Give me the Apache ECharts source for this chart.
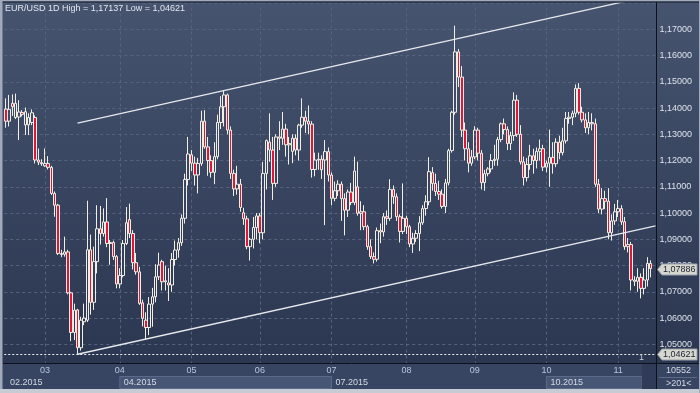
<!DOCTYPE html>
<html><head><meta charset="utf-8">
<script src="https://cdn.jsdelivr.net/npm/echarts@6/dist/echarts.min.js"></script>
<style>html,body{margin:0;padding:0;background:#2f3b57;}#c{width:700px;height:393px;}</style>
</head><body><div id="c"></div>
<script>
// ---- data ----
const titleText = 'EUR/USD 1D High = 1,17137 Low = 1,04621';
const months = ['02','03','04','05','06','07','08','09','10','11'];
const monthSlots = [12,23,22,21,22,23,21,22,22,12];
const periodLabels = ['02.2015','04.2015','07.2015','10.2015'];
const periodMonths = ['02','04','07','10'];
const highValue = 1.17137;
const lowValue = 1.04621;
const lastValue = 1.07886;
const barCountLabel = '10552';
const rangeLabel = '>201<';
// trend lines: [slot index, price]
const upperTrend = [[22, 1.1343], [199.5, 1.1832]];
const lowerTrend = [[22, 1.04621], [199.5, 1.0951]];
// candles: [open, close, low, high]
const feb = [
[1.1396,1.1350,1.1325,1.1437],[1.1350,1.1395,1.1330,1.1450],[1.1418,1.1405,1.1370,1.1452],
[1.1364,1.1418,1.1358,1.1455],[1.1366,1.1385,1.1278,1.1430],[1.1383,1.1376,1.1368,1.1392],
[1.1336,1.1386,1.1297,1.1402],[1.1336,1.1364,1.1297,1.1380],[1.1345,1.1382,1.1335,1.1395],
[1.1364,1.1202,1.1189,1.1372],[1.1202,1.1194,1.1183,1.1246],[1.1192,1.1188,1.1180,1.1205]];
const mar = [
[1.1180,1.1189,1.1176,1.1246],[1.1189,1.1174,1.1166,1.1217],[1.1174,1.1075,1.1069,1.1180],
[1.1075,1.1030,1.0986,1.1082],[1.1030,1.0846,1.0840,1.1035],[1.0846,1.0842,1.0832,1.0860],
[1.0843,1.0852,1.0834,1.0910],[1.0852,1.0696,1.0690,1.0860],[1.0696,1.0545,1.0512,1.0700],
[1.0545,1.0630,1.0516,1.0655],[1.0631,1.0487,1.04621,1.0635],[1.0487,1.0592,1.0476,1.0605],
[1.0586,1.0600,1.0573,1.0655],[1.0592,1.0860,1.0585,1.1047],[1.0860,1.0660,1.0613,1.0918],
[1.0660,1.0815,1.0631,1.0872],[1.0815,1.0940,1.0770,1.1030],[1.0940,1.0922,1.0880,1.1027],
[1.0922,1.0966,1.0910,1.1018],[1.0966,1.0884,1.0870,1.1057],[1.0884,1.0888,1.0803,1.0897],
[1.0888,1.0834,1.0821,1.0895],[1.0834,1.0730,1.0713,1.0840]];
const apr = [
[1.0730,1.0762,1.0713,1.0790],[1.0762,1.0884,1.0755,1.0897],[1.0884,1.0963,1.0878,1.1023],
[1.0975,1.0922,1.0905,1.1036],[1.0922,1.0811,1.0785,1.0935],[1.0811,1.0776,1.0765,1.0848],
[1.0776,1.0656,1.0650,1.0795],[1.0658,1.0599,1.0568,1.0670],[1.0592,1.0564,1.0520,1.0622],
[1.0564,1.0653,1.0535,1.0680],[1.0653,1.0681,1.0567,1.0715],[1.0681,1.0757,1.0660,1.0805],
[1.0757,1.0802,1.0745,1.0849],[1.0815,1.0738,1.0705,1.0822],[1.0738,1.0742,1.0705,1.0800],
[1.0734,1.0726,1.0665,1.0790],[1.0726,1.0823,1.0700,1.0848],[1.0823,1.0859,1.0800,1.0895],
[1.0859,1.0887,1.0830,1.0905],[1.0887,1.0980,1.0875,1.0995],[1.0980,1.1128,1.0960,1.1150],
[1.1128,1.1225,1.1105,1.1290]];
const may = [
[1.1222,1.1190,1.1160,1.1240],[1.1190,1.1145,1.1105,1.1215],[1.1145,1.1189,1.1075,1.1210],
[1.1189,1.1350,1.1180,1.1390],[1.1350,1.1252,1.1245,1.1392],[1.1252,1.1200,1.1142,1.1290],
[1.1200,1.1155,1.1135,1.1220],[1.1155,1.1215,1.1110,1.1270],[1.1215,1.1345,1.1205,1.1375],
[1.1345,1.1405,1.1320,1.1445],[1.1405,1.1450,1.1330,1.1467],[1.1450,1.1316,1.1300,1.1455],
[1.1316,1.1151,1.1130,1.1330],[1.1151,1.1092,1.1065,1.1165],[1.1092,1.1110,1.1070,1.1180],
[1.1110,1.1021,1.1005,1.1130],[1.1001,1.0978,1.0955,1.1020],[1.0978,1.0872,1.0862,1.0990],
[1.0872,1.0900,1.0819,1.0905],[1.0900,1.0945,1.0865,1.0985],[1.0945,1.0989,1.0900,1.1000]];
const jun = [
[1.0989,1.0925,1.0885,1.1000],[1.0925,1.1151,1.0900,1.1195],[1.1151,1.1276,1.1090,1.1280],
[1.1270,1.1240,1.1195,1.1380],[1.1240,1.1113,1.1050,1.1290],[1.1113,1.1290,1.1100,1.1300],
[1.1290,1.1285,1.1240,1.1350],[1.1285,1.1320,1.1260,1.1385],[1.1320,1.1260,1.1215,1.1340],
[1.1260,1.1265,1.1185,1.1290],[1.1235,1.1285,1.1190,1.1300],[1.1285,1.1240,1.1220,1.1300],
[1.1240,1.1335,1.1200,1.1340],[1.1335,1.1365,1.1325,1.1437],[1.1365,1.1350,1.1305,1.1390],
[1.1350,1.1339,1.1300,1.1410],[1.1339,1.1166,1.1135,1.1350],[1.1166,1.1202,1.1140,1.1230],
[1.1202,1.1205,1.1165,1.1230],[1.1205,1.1165,1.1130,1.1220],[1.1202,1.1234,1.0954,1.1278],
[1.1234,1.1145,1.1120,1.1250]];
const jul = [
[1.1145,1.1056,1.1030,1.1155],[1.1056,1.1085,1.1045,1.1120],[1.1085,1.1110,1.1065,1.1125],
[1.1110,1.1055,1.0970,1.1120],[1.1055,1.1011,1.0915,1.1075],[1.1011,1.1080,1.0985,1.1090],
[1.1080,1.1040,1.1030,1.1115],[1.1040,1.1160,1.1030,1.1215],[1.1100,1.0999,1.0990,1.1196],
[1.0999,1.1005,1.0935,1.1045],[1.1005,1.0948,1.0935,1.1030],[1.0948,1.0872,1.0860,1.0955],
[1.0872,1.0834,1.0825,1.0900],[1.0834,1.0824,1.0808,1.0850],[1.0824,1.0933,1.0815,1.0945],
[1.0933,1.0928,1.0885,1.0960],[1.0928,1.0986,1.0910,1.1000],[1.0986,1.0980,1.0955,1.1010],
[1.0980,1.1090,1.0970,1.1129],[1.1090,1.1062,1.1035,1.1105],[1.1062,1.0986,1.0970,1.1075],
[1.0986,1.0930,1.0888,1.0995],[1.0930,1.0980,1.0920,1.1113]];
const aug = [
[1.0980,1.0948,1.0920,1.0990],[1.0948,1.0882,1.0870,1.0955],[1.0882,1.0904,1.0848,1.0925],
[1.0904,1.0922,1.0890,1.0935],[1.0922,1.0963,1.0855,1.0988],[1.0963,1.1017,1.0955,1.1030],
[1.1017,1.1043,1.0990,1.1068],[1.1043,1.1158,1.1030,1.1213],[1.1154,1.1113,1.1085,1.1175],
[1.1113,1.1082,1.1065,1.1150],[1.1082,1.1072,1.1050,1.1123],[1.1072,1.1025,1.1017,1.1090],
[1.1025,1.1115,1.1000,1.1130],[1.1115,1.1238,1.1105,1.1245],[1.1238,1.1384,1.1230,1.1390],
[1.1384,1.1614,1.1375,1.17137],[1.1614,1.1518,1.1480,1.1625],[1.1518,1.1316,1.1290,1.1560],
[1.1316,1.1245,1.1200,1.1345],[1.1245,1.1190,1.1155,1.1270],[1.1190,1.1214,1.1180,1.1240]];
const sep = [
[1.1214,1.1316,1.1205,1.1331],[1.1316,1.1228,1.1200,1.1325],[1.1228,1.1116,1.1090,1.1240],
[1.1116,1.1150,1.1085,1.1165],[1.1150,1.1168,1.1140,1.1175],[1.1168,1.1200,1.1155,1.1225],
[1.1200,1.1205,1.1180,1.1260],[1.1205,1.1280,1.1180,1.1290],[1.1280,1.1340,1.1270,1.1345],
[1.1340,1.1318,1.1300,1.1360],[1.1318,1.1265,1.1240,1.1330],[1.1265,1.1295,1.1240,1.1310],
[1.1295,1.1430,1.1275,1.1460],[1.1430,1.1300,1.1290,1.1450],[1.1300,1.1195,1.1185,1.1335],
[1.1195,1.1135,1.1105,1.1215],[1.1135,1.1185,1.1120,1.1210],[1.1185,1.1218,1.1165,1.1260],
[1.1218,1.1200,1.1150,1.1245],[1.1200,1.1235,1.1170,1.1250],[1.1235,1.1245,1.1200,1.1280],
[1.1245,1.1175,1.1160,1.1260]];
const oct = [
[1.1175,1.1190,1.1155,1.1200],[1.1190,1.1212,1.1100,1.1318],[1.1212,1.1188,1.1150,1.1270],
[1.1188,1.1270,1.1175,1.1285],[1.1270,1.1230,1.1205,1.1295],[1.1230,1.1275,1.1220,1.1325],
[1.1275,1.1360,1.1265,1.1385],[1.1360,1.1365,1.1340,1.1385],[1.1365,1.1380,1.1335,1.1390],
[1.1380,1.1475,1.1365,1.1490],[1.1475,1.1384,1.1375,1.1495],[1.1384,1.1355,1.1345,1.1405],
[1.1355,1.1325,1.1305,1.1380],[1.1325,1.1345,1.1300,1.1385],[1.1345,1.1340,1.1315,1.1380],
[1.1340,1.1110,1.1100,1.1360],[1.1110,1.1015,1.1000,1.1130],[1.1015,1.1055,1.0995,1.1095],
[1.1055,1.1045,1.1015,1.1085],[1.1045,1.0925,1.0900,1.1095],[1.0925,1.0970,1.0895,1.0995],
[1.0970,1.1005,1.0955,1.1035]];
const nov = [
[1.1005,1.1017,1.0985,1.1050],[1.1017,1.0967,1.0955,1.1030],[1.0967,1.0872,1.0860,1.0985],
[1.0872,1.0880,1.0850,1.0905],[1.0880,1.0745,1.0705,1.0890],[1.0745,1.0740,1.0722,1.0760],
[1.0740,1.0755,1.0700,1.0790],[1.0755,1.0713,1.0675,1.0770],[1.0713,1.0745,1.0690,1.0790],
[1.0745,1.0808,1.0720,1.0832],[1.0808,1.07886,1.0755,1.0820]];

// ---- build ----
const FONT = '"Liberation Sans", Arial, sans-serif';
const categories = [];
months.forEach((m, mi) => { for (let k = 1; k <= monthSlots[mi]; k++) categories.push(m + '-' + k); });
const ohlc = [].concat(feb, mar, apr, may, jun, jul, aug, sep, oct, nov);
const monthStarts = months.slice(1).map(m => m + '-1');
const fmt = v => v.toFixed(5).replace('.', ',');

const chart = echarts.init(document.getElementById('c'));
const GRID = '#55637e';
chart.setOption({
  animation: false,
  backgroundColor: new echarts.graphic.LinearGradient(0, 0, 0, 1, [
    {offset: 0, color: '#46546f'}, {offset: 1, color: '#29344e'}]),
  title: {text: titleText, left: 5, top: 4, padding: 0,
    textStyle: {color: '#e2e7f0', fontSize: 9, fontWeight: 'normal', fontFamily: FONT}},
  grid: {left: 4.27, right: 44.5, top: 3.05, bottom: 22.45},
  xAxis: [
    {type: 'category', data: categories, boundaryGap: true, z: 20, offset: -5,
      axisLine: {show: false}, axisTick: {show: false}, splitLine: {show: false},
      axisLabel: {interval: (i, v) => monthStarts.includes(v), formatter: v => v.split('-')[0],
        color: '#b9c5dd', fontSize: 9, margin: 0, fontFamily: FONT}},
    {type: 'value', min: -0.5, max: 199.5, show: false}
  ],
  yAxis: {type: 'value', position: 'right', min: 1.04, max: 1.18, interval: 0.01,
    axisLine: {show: false}, axisTick: {show: false},
    splitLine: {lineStyle: {color: GRID, type: [3, 3], width: 1}},
    axisLabel: {margin: 4, color: '#dde2ec', fontSize: 9, fontFamily: FONT,
      formatter: v => (v < 1.045 || v > 1.175) ? '' : fmt(v)}},
  series: [
    {type: 'line', data: [], xAxisIndex: 0, z: 1,
      markLine: {silent: true, symbol: 'none', z: 1, label: {show: false},
        lineStyle: {color: GRID, type: [3, 3], width: 1},
        data: monthStarts.map(v => ({xAxis: v}))}},
    {type: 'candlestick', data: ohlc, xAxisIndex: 0, barWidth: 3, z: 3,
      itemStyle: {color: 'rgba(0,0,0,0)', color0: '#e3143c', borderColor: '#f3eee4',
        borderColor0: '#f3eee4', borderColorDoji: '#f3eee4', borderWidth: 1},
      markLine: {silent: true, symbol: 'none', precision: 5, label: {show: false},
        lineStyle: {color: '#f2f2f2', type: [2, 2], width: 1}, data: [{yAxis: lowValue}]}},
    {type: 'line', xAxisIndex: 1, data: upperTrend, symbol: 'none', clip: true, z: 4,
      lineStyle: {color: '#e6e8ec', width: 1.3}},
    {type: 'line', xAxisIndex: 1, data: lowerTrend, symbol: 'none', clip: true, z: 4,
      lineStyle: {color: '#e6e8ec', width: 1.3}}
  ]
});

// ---- frame / panels (positions from axes) ----
const px = c => chart.convertToPixel({xAxisIndex: 0}, c);
const py = v => chart.convertToPixel({yAxisIndex: 0}, v);
const g = [];
g.push({type: 'rect', z: 10, shape: {x: 0, y: 363, width: 700, height: 30}, style: {fill: '#384562'}});
// period boxes
const pStarts = periodMonths.map(m => px(m + '-1'));
pStarts[0] = 3;
const boxEnd = px(categories[categories.length - 1]) - 12;
periodLabels.forEach((lab, i) => {
  const x0 = pStarts[i];
  const x1 = i < periodLabels.length - 1 ? pStarts[i + 1] : boxEnd;
  if (i % 2 === 1) {
    g.push({type: 'rect', z: 11, shape: {x: x0, y: 376.5, width: x1 - x0, height: 12},
      style: {fill: '#485676', stroke: '#5c6a8a', lineWidth: 1}});
  }
  const tx = i === 0 ? px(categories[0]) + 4 : x0 + 4;
  g.push({type: 'text', z: 12, x: tx, y: 383, style: {text: lab, fill: '#d3d9e5', fontSize: 9,
    fontFamily: FONT, verticalAlign: 'middle'}});
});
g.push({type: 'rect', z: 11, shape: {x: boxEnd, y: 363, width: 656 - boxEnd, height: 26}, style: {fill: '#303c57'}});
// separators
g.push({type: 'line', z: 13, shape: {x1: 3, y1: 363.5, x2: 700, y2: 363.5}, style: {stroke: '#0c111c', lineWidth: 1}});
g.push({type: 'line', z: 13, shape: {x1: 656.5, y1: 2, x2: 656.5, y2: 389}, style: {stroke: '#0c111c', lineWidth: 1}});
g.push({type: 'line', z: 13, shape: {x1: 659, y1: 377.5, x2: 697, y2: 377.5}, style: {stroke: '#5c6a8a', lineWidth: 1}});
g.push({type: 'text', z: 13, x: 666, y: 371, style: {text: barCountLabel, fill: '#d3d9e5', fontSize: 9, fontFamily: FONT, verticalAlign: 'middle'}});
g.push({type: 'text', z: 13, x: 666, y: 384, style: {text: rangeLabel, fill: '#d3d9e5', fontSize: 9, fontFamily: FONT, verticalAlign: 'middle'}});
g.push({type: 'text', z: 13, x: 639, y: 358, style: {text: '1', fill: '#c8d0de', fontSize: 9, fontFamily: FONT, verticalAlign: 'middle'}});
// outer frame
g.push({type: 'rect', z: 14, shape: {x: 0, y: 0, width: 700, height: 1.5}, style: {fill: '#a3acbd'}});
g.push({type: 'rect', z: 14, shape: {x: 0, y: 1.5, width: 700, height: 1}, style: {fill: '#161c2a'}});
g.push({type: 'rect', z: 14, shape: {x: 0, y: 0, width: 2.5, height: 393}, style: {fill: '#a0aabb'}});
g.push({type: 'rect', z: 14, shape: {x: 0, y: 389, width: 700, height: 4}, style: {fill: '#c6cbd4'}});
g.push({type: 'rect', z: 14, shape: {x: 699, y: 0, width: 1, height: 393}, style: {fill: '#a0aabb'}});
// price tags
[lastValue, lowValue].forEach(v => {
  const y = Math.round(py(v)) + 0.5;
  g.push({type: 'polygon', z: 30, shape: {points: [[657.5, y], [662, y - 5.5], [697, y - 5.5], [697, y + 5.5], [662, y + 5.5]]},
    style: {fill: '#d6d8cf', stroke: '#9aa0a8', lineWidth: 1}});
  g.push({type: 'text', z: 31, x: 663, y: y, style: {text: fmt(v), fill: '#1c2230', fontSize: 9, fontFamily: FONT, verticalAlign: 'middle'}});
});
chart.setOption({graphic: g});
</script></body></html>
